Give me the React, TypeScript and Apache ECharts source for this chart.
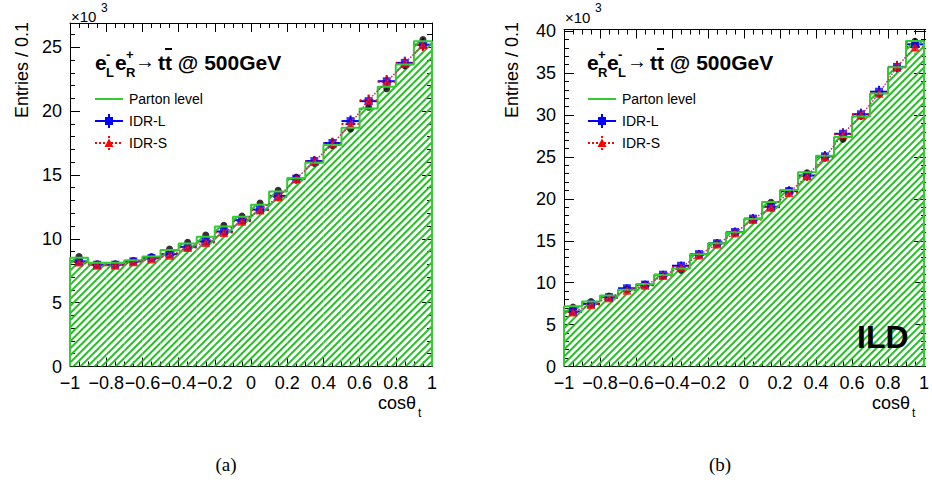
import React, { useEffect, useRef } from "react";
import * as echarts from "echarts";

// ---- data (values in units of 10^3 entries per 0.1) ----
const binCenters = [-0.95, -0.85, -0.75, -0.65, -0.55, -0.45, -0.35, -0.25, -0.15, -0.05, 0.05, 0.15, 0.25, 0.35, 0.45, 0.55, 0.65, 0.75, 0.85, 0.95];
const binEdges = [-1, -0.9, -0.8, -0.7, -0.6, -0.5, -0.4, -0.3, -0.2, -0.1, 0, 0.1, 0.2, 0.3, 0.4, 0.5, 0.6, 0.7, 0.8, 0.9, 1];
const binHalf = 0.05;
const xTickLabels = ["-1", "-0.8", "-0.6", "-0.4", "-0.2", "0", "0.2", "0.4", "0.6", "0.8", "1"];

// panel (a): e-L e+R
const partonA = [8.52, 8.12, 8.12, 8.32, 8.62, 9.12, 9.64, 10.17, 10.97, 11.72, 12.66, 13.7, 14.74, 15.96, 17.34, 18.7, 20.2, 21.9, 23.65, 25.47];
const genA = [8.62, 8.05, 8.05, 8.3, 8.62, 9.2, 9.72, 10.3, 11.05, 11.78, 12.8, 13.8, 14.82, 15.92, 17.3, 18.6, 20.3, 21.75, 23.55, 25.6];
const idrLA = [8.23, 7.97, 7.97, 8.23, 8.49, 8.8, 9.37, 9.8, 10.57, 11.46, 12.29, 13.36, 14.71, 16.09, 17.5, 19.22, 20.78, 22.34, 23.78, 25.2];
const idrSA = [8.18, 7.93, 7.93, 8.2, 8.42, 8.72, 9.32, 9.72, 10.5, 11.38, 12.25, 13.3, 14.7, 16.05, 17.45, 19.0, 20.85, 22.3, 23.75, 25.2];
const errA = [0.3, 0.3, 0.3, 0.3, 0.3, 0.3, 0.31, 0.32, 0.32, 0.34, 0.35, 0.36, 0.38, 0.4, 0.42, 0.44, 0.45, 0.47, 0.48, 0.5];

// panel (b): e+R e-L
const partonB = [7.2, 7.75, 8.47, 9.17, 9.85, 10.9, 11.7, 13.4, 14.7, 16.0, 17.6, 19.61, 21.04, 23.17, 25.15, 27.37, 29.81, 32.58, 35.69, 38.83];
const genB = [7.1, 7.75, 8.4, 9.2, 9.8, 10.8, 11.5, 13.3, 14.65, 15.95, 17.55, 19.6, 21.0, 23.1, 25.1, 27.1, 29.9, 32.5, 35.6, 38.8];
const idrLB = [6.56, 7.47, 8.27, 9.33, 9.77, 10.95, 12.02, 13.4, 14.7, 16.05, 17.64, 19.06, 20.92, 22.78, 25.07, 27.76, 30.09, 32.78, 35.74, 38.43];
const idrSB = [6.5, 7.4, 8.2, 9.1, 9.7, 10.85, 11.85, 13.3, 14.6, 15.95, 17.55, 19.0, 20.75, 22.75, 25.0, 27.7, 30.0, 32.6, 35.7, 38.1];
const errB = [0.45, 0.45, 0.45, 0.46, 0.46, 0.47, 0.48, 0.5, 0.5, 0.52, 0.54, 0.55, 0.57, 0.6, 0.62, 0.65, 0.67, 0.7, 0.72, 0.75];

const yMaxA = 26.9;
const yMaxB = 40.2;

const SANS = "'Liberation Sans', Arial, Helvetica, sans-serif";
const SERIF = "'Liberation Serif', 'Times New Roman', serif";
const GREEN = "#33cc33";
const HATCH = "#22c022";

function fmtX(v: number) {
  const r = Math.round(v * 10) / 10;
  const idx = Math.round((r + 1) / 0.2);
  const s = xTickLabels[idx] ?? String(r);
  return s.replace("-", "\u2212");
}

function xAxes(grid: number) {
  const common = {
    type: "value",
    gridIndex: grid,
    min: -1,
    max: 1,
    interval: 0.2,
    splitLine: { show: false },
    axisLine: { show: true, onZero: false, lineStyle: { color: "#000", width: 1 } },
    axisTick: { show: true, inside: true, length: 9, lineStyle: { color: "#000" } },
    minorTick: { show: true, splitNumber: 4, length: 5, lineStyle: { color: "#000" } },
  };
  return [
    {
      ...common,
      position: "bottom",
      axisLabel: { show: true, fontSize: 18, fontFamily: SANS, color: "#000", margin: 7, formatter: fmtX },
    },
    { ...common, position: "top", axisLabel: { show: false } },
  ];
}

function yAxes(grid: number, max: number, major: boolean) {
  const base: any = {
    type: "value",
    gridIndex: grid,
    min: 0,
    max,
    interval: major ? 5 : 1,
    splitLine: { show: false },
    axisLine: { show: major, onZero: false, lineStyle: { color: "#000", width: 1 } },
    axisTick: { show: true, inside: true, length: major ? 10 : 5, lineStyle: { color: "#000" } },
  };
  return [
    {
      ...base,
      position: "left",
      axisLabel: major
        ? {
            show: true,
            fontSize: 18,
            fontFamily: SANS,
            color: "#000",
            margin: 8,
            showMaxLabel: false,
            formatter: (v: number) => (Math.abs(v % 5) < 1e-9 ? String(v) : ""),
          }
        : { show: false },
    },
    { ...base, position: "right", axisLabel: { show: false } },
  ];
}

function panelSeries(xi: number, yi: number, parton: number[], gen: number[], idrL: number[], idrS: number[], err: number[]) {
  const outline: number[][] = [[binEdges[0], 0]];
  for (let i = 0; i < parton.length; i++) outline.push([binEdges[i], parton[i]]);
  outline.push([binEdges[binEdges.length - 1], parton[parton.length - 1]]);
  outline.push([binEdges[binEdges.length - 1], 0]);

  const errSeries = (vals: number[], color: string, dashed: boolean) => ({
    type: "custom",
    xAxisIndex: xi,
    yAxisIndex: yi,
    silent: true,
    data: binCenters.map((c, i) => [c, vals[i], err[i]]),
    renderItem: (_p: any, api: any) => {
      const x = api.value(0);
      const y = api.value(1);
      const e = api.value(2);
      const pL = api.coord([x - binHalf, y]);
      const pR = api.coord([x + binHalf, y]);
      const pT = api.coord([x, y + e]);
      const pB = api.coord([x, y - e]);
      const style: any = { stroke: color, lineWidth: 2, fill: null };
      if (dashed) style.lineDash = [2, 2];
      return {
        type: "group",
        children: [
          { type: "line", shape: { x1: pL[0], y1: pL[1], x2: pR[0], y2: pR[1] }, style },
          { type: "line", shape: { x1: pT[0], y1: pT[1], x2: pB[0], y2: pB[1] }, style },
        ],
      };
    },
  });

  return [
    {
      type: "bar",
      xAxisIndex: xi,
      yAxisIndex: yi,
      silent: true,
      barWidth: 18.1,
      data: binCenters.map((c, i) => [c, parton[i]]),
      itemStyle: {
        color: "rgba(255,255,255,0)",
        decal: {
          symbol: "rect",
          symbolSize: 1,
          dashArrayX: [1, 0],
          dashArrayY: [1.2, 2.8],
          rotation: -Math.PI / 4,
          color: HATCH,
        },
      },
    },
    {
      type: "line",
      xAxisIndex: xi,
      yAxisIndex: yi,
      silent: true,
      step: "end",
      symbol: "none",
      data: outline,
      lineStyle: { color: GREEN, width: 2 },
    },
    {
      type: "line",
      xAxisIndex: xi,
      yAxisIndex: yi,
      silent: true,
      symbol: "none",
      smooth: 0.3,
      data: binCenters.map((c, i) => [c, idrS[i]]),
      lineStyle: { color: "#c0306a", width: 1.5, type: "dotted" },
    },
    {
      type: "scatter",
      xAxisIndex: xi,
      yAxisIndex: yi,
      silent: true,
      symbol: "circle",
      symbolSize: 7,
      data: binCenters.map((c, i) => [c, gen[i]]),
      itemStyle: { color: "#000" },
    },
    errSeries(idrL, "#0000ff", false),
    {
      type: "scatter",
      xAxisIndex: xi,
      yAxisIndex: yi,
      silent: true,
      symbol: "rect",
      symbolSize: 8,
      data: binCenters.map((c, i) => [c, idrL[i]]),
      itemStyle: { color: "#0000ff" },
    },
    errSeries(idrS, "#ff0000", true),
    {
      type: "scatter",
      xAxisIndex: xi,
      yAxisIndex: yi,
      silent: true,
      symbol: "triangle",
      symbolSize: 9,
      data: binCenters.map((c, i) => [c, idrS[i]]),
      itemStyle: { color: "#ff0000" },
    },
  ];
}

function txt(x: number, y: number, text: string, size: number, opts: any = {}) {
  return {
    type: "text",
    x,
    y,
    z: 100,
    silent: true,
    rotation: opts.rotation || 0,
    style: {
      text,
      fontSize: size,
      fontFamily: opts.family || SANS,
      fontWeight: opts.weight || "normal",
      fill: "#000",
      align: opts.align || "left",
      verticalAlign: opts.valign || "middle",
    },
  };
}

function titleGraphics(dx: number, sup1: string, sub1: string, sup2: string, sub2: string) {
  const b = { weight: "bold" };
  return [
    txt(95 + dx, 62, "e", 21, b),
    txt(106 + dx, 54, sup1, 13, b),
    txt(106 + dx, 72, sub1, 13, b),
    txt(115 + dx, 62, "e", 21, b),
    txt(126 + dx, 54, sup2, 13, b),
    txt(126 + dx, 72, sub2, 13, b),
    txt(135 + dx, 61, "\u2192", 20),
    txt(158 + dx, 62, "t", 21, b),
    txt(165 + dx, 62, "t", 21, b),
    {
      type: "line",
      z: 100,
      silent: true,
      shape: { x1: 165 + dx, y1: 49, x2: 172 + dx, y2: 49 },
      style: { stroke: "#000", lineWidth: 2 },
    },
    txt(172 + dx, 62, " @ 500GeV", 21, b),
  ];
}

function legendGraphics(dx: number) {
  const cx = 109 + dx;
  return [
    { type: "line", z: 100, silent: true, shape: { x1: 95 + dx, y1: 99, x2: 123 + dx, y2: 99 }, style: { stroke: GREEN, lineWidth: 2 } },
    txt(129 + dx, 99, "Parton level", 14),
    { type: "line", z: 100, silent: true, shape: { x1: 95 + dx, y1: 121, x2: 123 + dx, y2: 121 }, style: { stroke: "#0000ff", lineWidth: 2 } },
    { type: "line", z: 100, silent: true, shape: { x1: cx, y1: 114, x2: cx, y2: 128 }, style: { stroke: "#0000ff", lineWidth: 2 } },
    { type: "rect", z: 100, silent: true, shape: { x: cx - 4, y: 117, width: 8, height: 8 }, style: { fill: "#0000ff" } },
    txt(129 + dx, 121, "IDR-L", 14),
    { type: "line", z: 100, silent: true, shape: { x1: 95 + dx, y1: 143, x2: 123 + dx, y2: 143 }, style: { stroke: "#ff0000", lineWidth: 2, lineDash: [2, 2] } },
    { type: "line", z: 100, silent: true, shape: { x1: cx, y1: 136, x2: cx, y2: 150 }, style: { stroke: "#ff0000", lineWidth: 2, lineDash: [2, 2] } },
    { type: "polygon", z: 100, silent: true, shape: { points: [[cx, 138.5], [cx + 4.5, 147], [cx - 4.5, 147]] }, style: { fill: "#ff0000" } },
    txt(129 + dx, 143, "IDR-S", 14),
  ];
}

function frameTexts(dx: number, gridLeft: number, gridRight: number, xExpY: number) {
  return [
    txt(gridLeft + 1, xExpY, "\u00d710", 15),
    txt(gridLeft + 31, 8, "3", 12),
    txt(22 + dx, 22, "Entries / 0.1", 18, { rotation: Math.PI / 2, align: "right" }),
    txt(gridRight - 16, 403, "cos\u03b8", 18, { align: "right" }),
    txt(gridRight - 14, 413, "t", 12),
  ];
}

export default function App() {
  const ref = useRef<HTMLDivElement>(null);
  useEffect(() => {
    if (!ref.current) return;
    const chart = echarts.init(ref.current, undefined, { renderer: "svg" });
    const xa = [...xAxes(0), ...xAxes(2)];
    xa.push({ type: "value", gridIndex: 1, min: -1, max: 1, show: false } as any);
    xa.push({ type: "value", gridIndex: 3, min: -1, max: 1, show: false } as any);
    const ya = [
      ...yAxes(0, yMaxA, true),
      ...yAxes(1, yMaxA, false),
      ...yAxes(2, yMaxB, true),
      ...yAxes(3, yMaxB, false),
    ];
    const option: any = {
      animation: false,
      backgroundColor: "#fff",
      grid: [
        { left: 70, top: 23, width: 362, height: 343.5 },
        { left: 70, top: 23, width: 362, height: 343.5 },
        { left: 564, top: 29.5, width: 362, height: 337 },
        { left: 564, top: 29.5, width: 362, height: 337 },
      ],
      xAxis: xa,
      yAxis: ya,
      series: [
        ...panelSeries(0, 0, partonA, genA, idrLA, idrSA, errA),
        ...panelSeries(2, 4, partonB, genB, idrLB, idrSB, errB),
      ],
      graphic: [
        ...titleGraphics(0, "-", "L", "+", "R"),
        ...titleGraphics(492, "+", "R", "-", "L"),
        ...legendGraphics(0),
        ...legendGraphics(493),
        ...frameTexts(0, 70, 432, 16.5),
        ...frameTexts(490, 564, 926, 17.5),
        txt(857, 337, "ILD", 32, { weight: "bold" }),
        txt(226, 464, "(a)", 19, { family: SERIF, align: "center" }),
        txt(720, 464, "(b)", 19, { family: SERIF, align: "center" }),
      ],
    };
    chart.setOption(option);
    return () => chart.dispose();
  }, []);
  return <div ref={ref} style={{ position: "fixed", left: 0, top: 0, width: 932, height: 484 }} />;
}
